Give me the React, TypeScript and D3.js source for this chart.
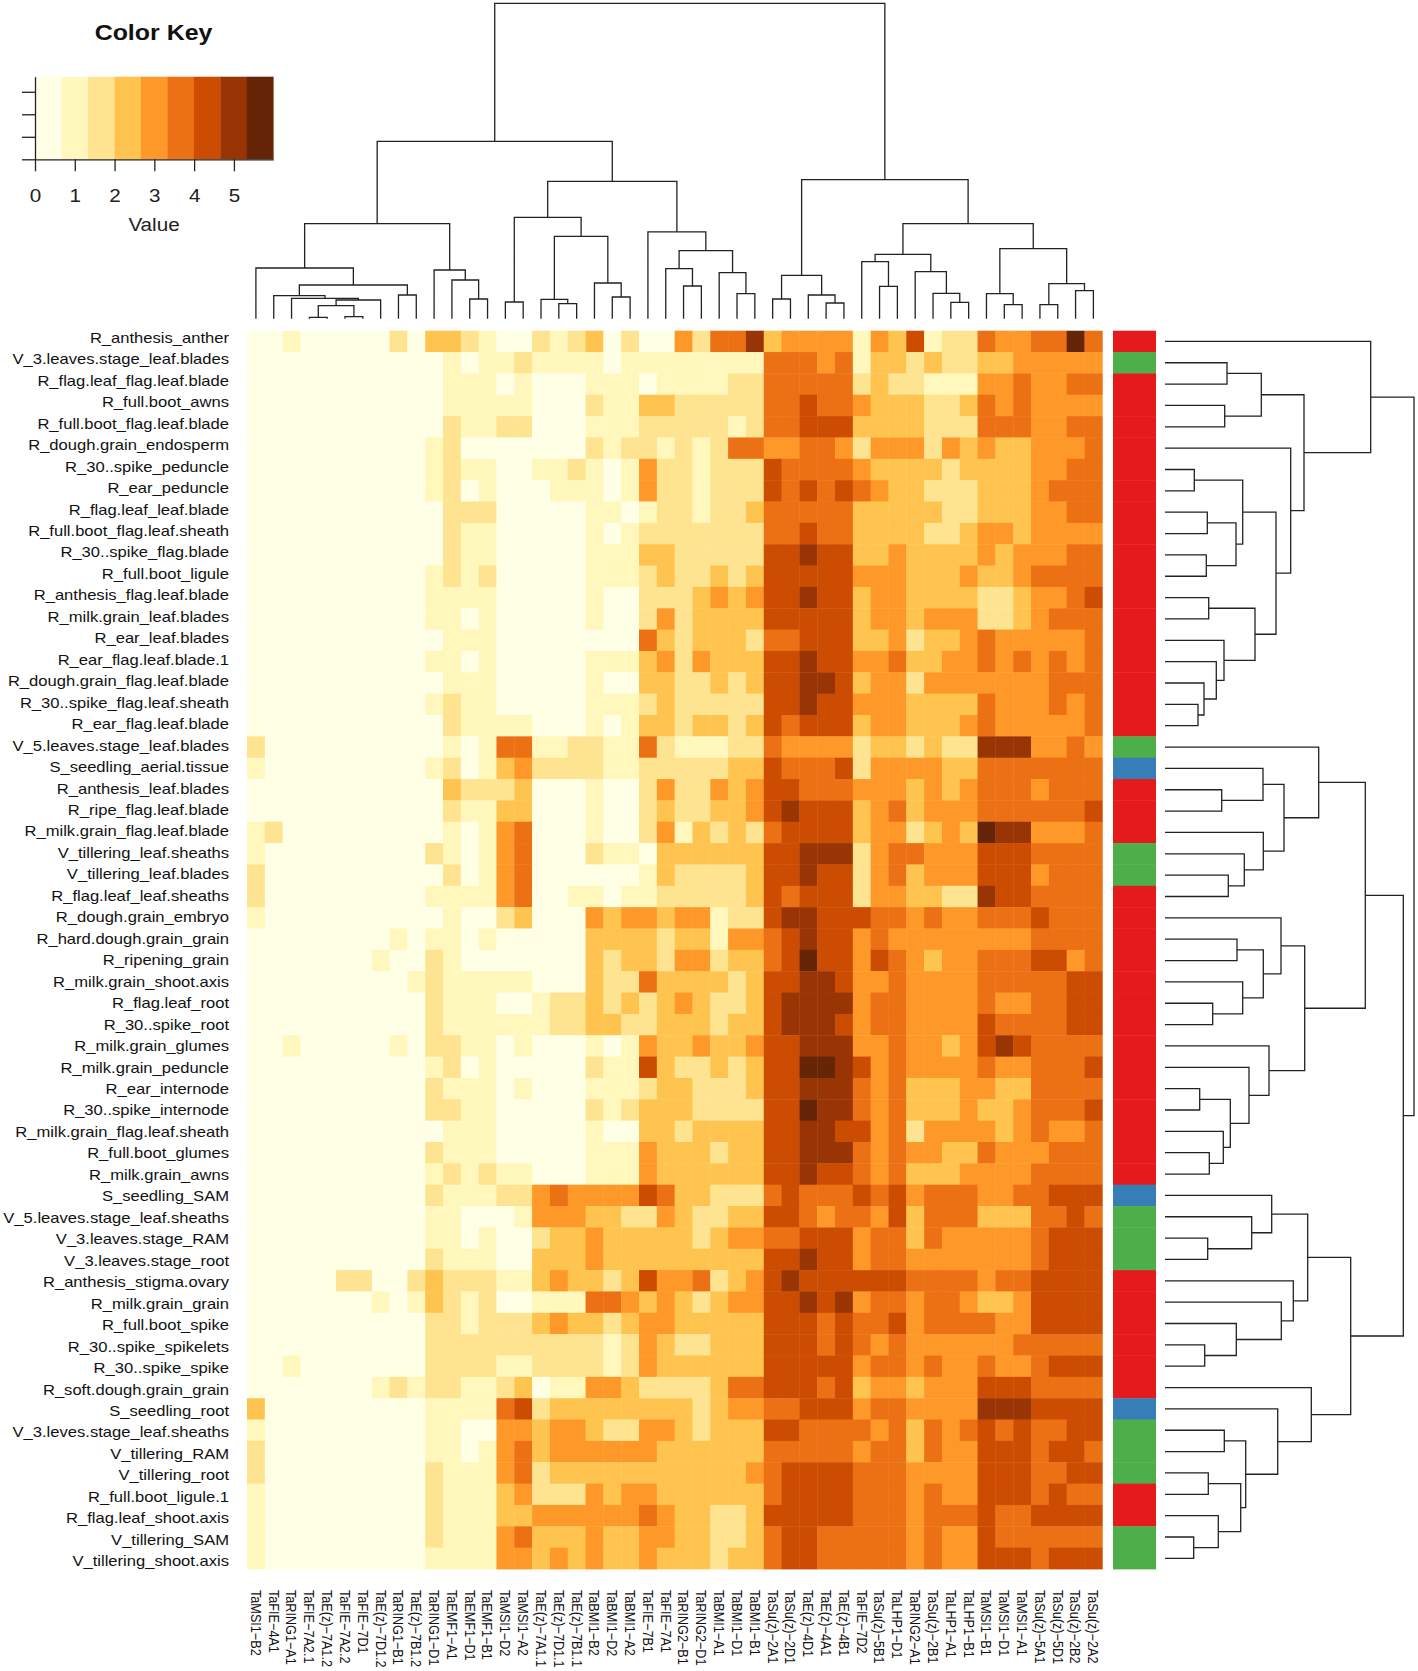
import React, { useRef, useEffect } from "react";
import * as d3 from "d3";

type Tree = number | [number, Tree, Tree];

const rowLabels = [
    "R_anthesis_anther", "V_3.leaves.stage_leaf.blades", "R_flag.leaf_flag.leaf.blade", "R_full.boot_awns",
    "R_full.boot_flag.leaf.blade", "R_dough.grain_endosperm", "R_30..spike_peduncle", "R_ear_peduncle",
    "R_flag.leaf_leaf.blade", "R_full.boot_flag.leaf.sheath", "R_30..spike_flag.blade", "R_full.boot_ligule",
    "R_anthesis_flag.leaf.blade", "R_milk.grain_leaf.blades", "R_ear_leaf.blades", "R_ear_flag.leaf.blade.1",
    "R_dough.grain_flag.leaf.blade", "R_30..spike_flag.leaf.sheath", "R_ear_flag.leaf.blade", "V_5.leaves.stage_leaf.blades",
    "S_seedling_aerial.tissue", "R_anthesis_leaf.blades", "R_ripe_flag.leaf.blade", "R_milk.grain_flag.leaf.blade",
    "V_tillering_leaf.sheaths", "V_tillering_leaf.blades", "R_flag.leaf_leaf.sheaths", "R_dough.grain_embryo",
    "R_hard.dough.grain_grain", "R_ripening_grain", "R_milk.grain_shoot.axis", "R_flag.leaf_root",
    "R_30..spike_root", "R_milk.grain_glumes", "R_milk.grain_peduncle", "R_ear_internode",
    "R_30..spike_internode", "R_milk.grain_flag.leaf.sheath", "R_full.boot_glumes", "R_milk.grain_awns",
    "S_seedling_SAM", "V_5.leaves.stage_leaf.sheaths", "V_3.leaves.stage_RAM", "V_3.leaves.stage_root",
    "R_anthesis_stigma.ovary", "R_milk.grain_grain", "R_full.boot_spike", "R_30..spike_spikelets",
    "R_30..spike_spike", "R_soft.dough.grain_grain", "S_seedling_root", "V_3.leves.stage_leaf.sheaths",
    "V_tillering_RAM", "V_tillering_root", "R_full.boot_ligule.1", "R_flag.leaf_shoot.axis",
    "V_tillering_SAM", "V_tillering_shoot.axis",
];

const colLabels = [
    "TaMSI1−B2", "TaFIE−4A1", "TaRING1−A1", "TaFIE−7A2.1", "TaE(z)−7A1.2", "TaFIE−7A2.2", "TaFIE−7D1", "TaE(z)−7D1.2",
    "TaRING1−B1", "TaE(z)−7B1.2", "TaRING1−D1", "TaEMF1−A1", "TaEMF1−D1", "TaEMF1−B1", "TaMSI1−D2", "TaMSI1−A2",
    "TaE(z)−7A1.1", "TaE(z)−7D1.1", "TaE(z)−7B1.1", "TaBMI1−B2", "TaBMI1−D2", "TaBMI1−A2", "TaFIE−7B1", "TaFIE−7A1",
    "TaRING2−B1", "TaRING2−D1", "TaBMI1−A1", "TaBMI1−D1", "TaBMI1−B1", "TaSu(z)−2A1", "TaSu(z)−2D1", "TaE(z)−4D1",
    "TaE(z)−4A1", "TaE(z)−4B1", "TaFIE−7D2", "TaSu(z)−5B1", "TaLHP1−D1", "TaRING2−A1", "TaSu(z)−2B1", "TaLHP1−A1",
    "TaLHP1−B1", "TaMSI1−B1", "TaMSI1−D1", "TaMSI1−A1", "TaSu(z)−5A1", "TaSu(z)−5D1", "TaSu(z)−2B2", "TaSu(z)−2A2",
];

// one digit per cell: the colour key bin the cell falls in
const cellBins = [
    "001000002033210021230200425573444414361225445585",
    "000000000001011211110111111115554513323223344444",
    "000000000001110100011101111225555523221114454455",
    "000000000001111100021133222225565543332235454444",
    "000000000002112200011122222125566633332225554455",
    "000000000012000000021221212554455424442434334445",
    "000000000012110011210142212226555543333233334455",
    "000000000012010001110142212226565654332223334555",
    "000000000002220000011012212235555533333223334455",
    "000000000002110000010122222225565533332234434444",
    "000000000002110000011133222226676633433334344455",
    "000000000012120000011123223236666644433343345555",
    "000000000011110000010022234346676634433332234456",
    "000000000011010000010024233336666634434442234555",
    "000000000001110000000053233325566633423345444445",
    "000000000011010000011134243336676644533445454545",
    "000000000001110000010033223236677634424444444555",
    "000000000012110000011123222226676644433335444545",
    "000000000002111100010133233236566634433345444445",
    "200000000001015511221152111225444423323227774454",
    "100000000012013422221122222336555624444335555555",
    "000000000003222300010024224346655544434345554555",
    "000000000002113300010023223346766634534445555556",
    "120000000001014500010024132325666634423438774445",
    "100000000021014500021103333336677724554446665555",
    "200000000002014500000013222236676624534446664555",
    "200000000011114500110112222236566624433227665555",
    "100000000001002300043443441226776665545445556555",
    "000000001011010000033332331445676645444444445555",
    "000000010021000000032332442335686646543445556645",
    "000000000121111100032253333236677644544445555566",
    "000000000021110012232323432236777745544445445566",
    "000000000021111112233223332336777645544446555566",
    "001000001022110100010143343346677744544346765555",
    "000000000012010000021163223236688764544445445556",
    "000000000021110100011123322236677754533344335555",
    "000000000022110000021233322226687754533343345556",
    "000000000001110000010033233336677664524444345445",
    "000000000021110000011143332336677754544335444555",
    "000000000012121100011143333336676654533344445555",
    "000000000021112245444465332225655565645554455666",
    "000000000011000144433224322336654554635553335565",
    "000000000011010023343333323445566645535444445666",
    "000000000021110033343333333336676645544444445666",
    "000002200232221134332364452346766666655554556666",
    "000000010132120011155434323446676745545543346666",
    "000000000022122234332344333336665655645555446666",
    "000000000022222222221243223336665654544444455555",
    "001000000022221122221243333336666645545445445666",
    "000000012122112301144322223556665634434446665555",
    "300000000011115623333333323445566645544447776666",
    "100000000011004434432244323336655554535456565566",
    "200000000011014534444443333335555545535446665665",
    "200000000021114523333333333345666655544446665566",
    "100000000021113422243443333335666655545446665655",
    "100000000021113344444454332236666655545556556666",
    "100000000021114533343344332235665555545446555555",
    "100000000011114434343343332335665555545446665666",
];

const keyColors = ["#FFFFE5", "#FFF7BC", "#FEE391", "#FEC44F", "#FE9929", "#EC7014", "#CC4C02", "#993404", "#662506"];
const keyMax = 5.99;
const keyTicks = [0, 1, 2, 3, 4, 5];
const keyCountTicks = [0, 1, 2, 3];

const sampleColors: Record<string, string> = { R: "#E41A1C", V: "#4DAF4A", S: "#377EB8" };

// merge heights of the dendrograms: [height, left, right], a plain number is a leaf
const colTree: Tree = [315.3,
    [177.3,
        [95,
            [50.7, 0, [33.7, [23, 1, [20.3, 2, [18.7, [13, [1.3, 3, 4], [2, 5, 6]], 7]]], [23.7, 8, 9]]],
            [48.7, 10, [38.7, 11, [19.7, 12, 13]]],
        ],
        [137.3,
            [101.3, [16.7, 14, 15], [82.3, [19.3, 16, [15, 17, 18]], [35.7, 19, [21.7, 20, 21]]]],
            [86.7, 22, [68, [50, 23, [32.7, 24, 25]], [46, 26, [25, 27, 28]]]],
        ],
    ],
    [139,
        [43.3, [19.7, 29, 30], [23.7, 31, [15.7, 32, 33]]],
        [95,
            [64.3, [57, 34, [32.3, 35, 36]], [47, 37, [25.3, 38, [16.3, 39, 40]]]],
            [70, [25, 41, [14, 42, 43]], [35, [14, 44, 45], [28, 46, 47]]],
        ],
    ],
];

const rowTree: Tree = [249,
    [205.7, 0,
        [139,
            [96.3, [62, 1, 2], [59.7, 3, 4]],
            [125.7, 5,
                [111,
                    [77.7, [29.3, 6, 7], [71, [42.3, 8, 9], [41.3, 10, 11]]],
                    [90, [43.7, 12, 13], [59, 14, [51.3, 15, [39, 16, [33, 17, 18]]]]],
                ],
            ],
        ],
    ],
    [238.3,
        [200.3,
            [153.7, 19, [119, [98, 20, [56.7, 21, 22]], [98.3, 23, [79.3, 24, [63.3, 25, 26]]]]],
            [139.7,
                [116, 27, [98.3, [72, 28, 29], [77.7, 30, [47.7, 31, 32]]]],
                [104, 33, [84, 34, [65.3, [34.7, 35, 36], [58.3, 37, [44.3, 38, 39]]]]],
            ],
        ],
        [185.7,
            [142.7,
                [106.7, 40, [86.7, 41, [42.7, 42, 43]]],
                [128.3, 44, [116.3, 45, [71.3, 46, [39.7, 47, 48]]]],
            ],
            [146.3, 49, [112.7, 50, [80.7, [59.3, 51, 52], [75.7, [43.3, 53, 54], [53.3, 55, [28.7, 56, 57]]]]]],
        ],
    ],
];

const FONT = "'Liberation Sans', Arial, sans-serif";
const LINE = "#222222";
// the published figure is stretched sideways, so its glyphs are wider than they are tall
const STRETCH = 1.16;

const App: React.FC = () => {
    const ref = useRef<SVGSVGElement | null>(null);

    useEffect(() => {
        const svg = d3.select(ref.current);
        svg.selectAll("*").remove();

        const x = d3.scaleBand<number>().domain(d3.range(colLabels.length)).range([247, 1102.3]);
        const y = d3.scaleBand<number>().domain(d3.range(rowLabels.length)).range([330.7, 1569]);
        const labelY = d3.scalePoint<number>().domain(d3.range(rowLabels.length)).range([337.8, 1561.2]);
        const binWidth = keyMax / keyColors.length;
        const color = d3.scaleQuantize<string>().domain([0, keyMax]).range(keyColors);

        // heatmap
        const cells = cellBins.flatMap((row, r) =>
            row.split("").map((d, c) => ({ r, c, value: (+d + 0.5) * binWidth }))
        );
        svg.append("g")
            .selectAll("rect")
            .data(cells)
            .enter()
            .append("rect")
            .attr("x", (d) => x(d.c)!)
            .attr("y", (d) => y(d.r)!)
            .attr("width", x.bandwidth() + 0.4)
            .attr("height", y.bandwidth() + 0.4)
            .attr("fill", (d) => color(d.value));

        // side colour bar
        svg.append("g")
            .selectAll("rect")
            .data(rowLabels)
            .enter()
            .append("rect")
            .attr("x", 1113)
            .attr("y", (_, i) => y(i)!)
            .attr("width", 43)
            .attr("height", y.bandwidth() + 0.4)
            .attr("fill", (d) => sampleColors[d[0]]);

        // row and column labels
        svg.append("g")
            .selectAll("text")
            .data(rowLabels)
            .enter()
            .append("text")
            .attr("transform", (_, i) => `translate(229,${labelY(i)}) scale(${STRETCH},1)`)
            .attr("dy", "0.35em")
            .attr("text-anchor", "end")
            .style("font-family", FONT)
            .style("font-size", "14.3px")
            .attr("fill", "#111")
            .text((d) => d);

        svg.append("g")
            .selectAll("text")
            .data(colLabels)
            .enter()
            .append("text")
            .attr("transform", (_, i) => `translate(${x(i)! + x.bandwidth() / 2},1590) scale(${STRETCH},1) rotate(90)`)
            .attr("dy", "0.35em")
            .style("font-family", FONT)
            .style("font-size", "12.65px")
            .attr("fill", "#111")
            .text((d) => d);

        // dendrograms
        const drawTree = (tree: Tree, leafPos: (i: number) => number, heightPos: (h: number) => number, vertical: boolean) => {
            const path = d3.path();
            const pt = (a: number, b: number, move: boolean) => {
                const px = vertical ? a : b;
                const py = vertical ? b : a;
                if (move) path.moveTo(px, py);
                else path.lineTo(px, py);
            };
            const walk = (node: Tree): { pos: number; h: number } => {
                if (!Array.isArray(node)) return { pos: leafPos(node), h: heightPos(0) };
                const left = walk(node[1]);
                const right = walk(node[2]);
                const h = heightPos(node[0]);
                pt(left.pos, left.h, true);
                pt(left.pos, h, false);
                pt(right.pos, h, false);
                pt(right.pos, right.h, false);
                return { pos: (left.pos + right.pos) / 2, h };
            };
            walk(tree);
            return path.toString();
        };

        const colHeight = d3.scaleLinear().domain([0, 315.3]).range([318.7, 3.3]);
        const rowHeight = d3.scaleLinear().domain([0, 249]).range([1165, 1414]);
        [
            drawTree(colTree, (i) => x(i)! + x.bandwidth() / 2, colHeight, true),
            drawTree(rowTree, (i) => y(i)! + y.bandwidth() / 2, rowHeight, false),
        ].forEach((d) => {
            svg.append("path")
                .attr("d", d)
                .attr("fill", "none")
                .attr("stroke", LINE)
                .attr("stroke-width", 1.3);
        });

        // colour key
        const keyX = d3.scaleLinear().domain([0, keyMax]).range([35, 273.3]);
        const keyY = d3.scaleLinear().domain([0, 3.67]).range([159.3, 76.7]);
        svg.append("g")
            .selectAll("rect")
            .data(keyColors)
            .enter()
            .append("rect")
            .attr("x", (_, i) => keyX(i * binWidth))
            .attr("y", keyY(3.67))
            .attr("width", keyX(binWidth) - keyX(0) + 0.3)
            .attr("height", keyY(0) - keyY(3.67))
            .attr("fill", (d) => d);

        const bottomAxis = svg
            .append("g")
            .attr("transform", `translate(0,${keyY(0)})`)
            .call(d3.axisBottom(keyX).tickValues(keyTicks).tickSize(12).tickSizeOuter(0).tickFormat(d3.format("d")));
        bottomAxis.select(".domain").attr("stroke", LINE).attr("stroke-width", 1.3);
        bottomAxis.selectAll("line").attr("stroke", LINE).attr("stroke-width", 1.3);
        bottomAxis
            .selectAll("text")
            .attr("y", 0)
            .attr("dy", "0.35em")
            .attr("transform", `translate(0,36) scale(${STRETCH},1)`)
            .style("font-family", FONT)
            .style("font-size", "17.8px")
            .attr("fill", "#222");

        const leftAxis = svg
            .append("g")
            .attr("transform", `translate(${keyX(0)},0)`)
            .call(d3.axisLeft(keyY).tickValues(keyCountTicks).tickSize(13).tickSizeOuter(0).tickFormat(() => ""));
        leftAxis.select(".domain").attr("stroke", LINE).attr("stroke-width", 1.3);
        leftAxis.selectAll("line").attr("stroke", LINE).attr("stroke-width", 1.3);

        svg.append("text")
            .attr("transform", `translate(153.5,40) scale(${STRETCH},1)`)
            .attr("text-anchor", "middle")
            .style("font-family", FONT)
            .style("font-size", "21.5px")
            .style("font-weight", "bold")
            .attr("fill", "#111")
            .text("Color Key");

        svg.append("text")
            .attr("transform", `translate(154,231) scale(${STRETCH},1)`)
            .attr("text-anchor", "middle")
            .style("font-family", FONT)
            .style("font-size", "17.8px")
            .attr("fill", "#222")
            .text("Value");
    }, []);

    return (
        <svg
            ref={ref}
            width={1418}
            height={1671}
            style={{ position: "absolute", left: 0, top: 0, background: "#fff" }}
        ></svg>
    );
};

export default App;
